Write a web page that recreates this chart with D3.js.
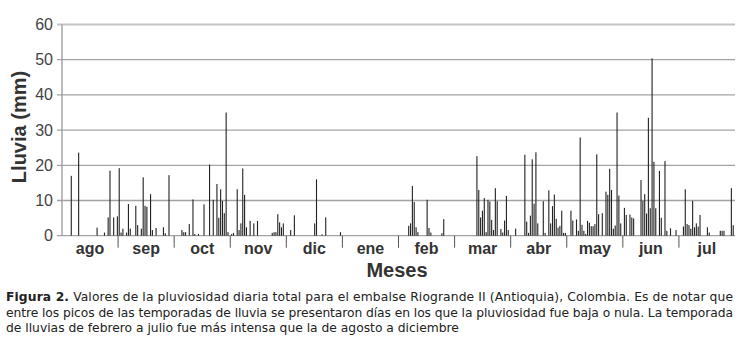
<!DOCTYPE html>
<html>
<head>
<meta charset="utf-8">
<script src="https://cdn.jsdelivr.net/npm/d3@7"></script>
<style>
  body { margin: 0; background: #fff; }
  #chart { width: 740px; height: 342px; }
  text { font-family: "Liberation Sans", Arial, sans-serif; }
  .caption { font-family: "DejaVu Sans", Verdana, sans-serif; font-size: 12.3px; fill: #222; }
</style>
</head>
<body>
<div id="chart"></div>
<script>
// months on the category axis (ago -> jul)
const meses = ['ago','sep','oct','nov','dic','ene','feb','mar','abr','may','jun','jul'];
const yTicks = [0, 10, 20, 30, 40, 50, 60];

// day index counted from 1 August, and daily rain in mm
const dias = [
  5, 9, 19, 23, 25, 26, 28, 30, 31, 32, 33, 35, 36, 37, 40, 41, 43, 44, 45, 46, 48, 49, 51, 55, 56, 58,
  65, 66, 67, 69, 71, 72, 74, 77, 80, 82, 84, 85, 86, 87, 88, 89, 90,
  92, 93, 95, 96, 97, 98, 99, 100, 102, 104, 106, 114, 115, 116, 117, 118, 119, 120,
  124, 126, 137, 138, 141, 143, 151,
  188, 189, 190, 191, 192, 193, 198, 199, 200, 206, 207,
  225, 226, 227, 228, 229, 230, 231, 232, 233, 234, 235, 236, 238, 239, 240, 241, 242,
  246, 251, 252, 253, 254, 255, 256, 257, 258, 261, 262, 264, 265, 266, 267, 268, 269, 270, 271, 272,
  273, 276, 277, 279, 280, 281, 282, 283, 284, 285, 286, 287, 288, 289, 290, 291, 293, 295, 296, 297,
  298, 299, 300, 301, 302, 303,
  305, 306, 308, 309, 310, 314, 315, 316, 317, 318, 319, 320, 321, 322, 324, 325, 327, 328, 330, 333,
  337, 338, 339, 340, 341, 342, 343, 344, 345, 346, 350, 351, 357, 358, 359, 363, 364
];
const lluvia = [
  17.0, 23.6, 2.3, 0.9, 5.2, 18.5, 5.2, 5.5, 19.2, 0.9, 2.0, 0.9, 9.0, 2.0, 8.5, 3.0, 2.0, 16.6, 8.5, 8.2, 11.8, 1.6, 2.2, 2.4, 0.7, 17.2,
  1.6, 1.0, 1.0, 3.3, 10.3, 0.5, 0.5, 8.9, 20.2, 10.2, 14.7, 5.1, 13.2, 9.9, 6.4, 35.0, 1.0,
  0.5, 0.8, 13.2, 1.6, 3.5, 19.1, 11.6, 2.4, 4.2, 3.5, 4.2, 0.8, 1.0, 1.0, 6.1, 3.8, 2.4, 3.5,
  1.6, 5.8, 3.5, 16.0, 0.4, 5.2, 1.0,
  2.8, 3.5, 14.1, 9.6, 2.4, 1.0, 10.2, 2.2, 0.9, 0.7, 4.7,
  22.6, 13.0, 5.2, 7.1, 10.7, 1.0, 10.2, 9.7, 4.5, 1.6, 13.5, 9.8, 1.9, 0.9, 4.3, 11.3, 1.6,
  2.0, 23.0, 4.0, 0.8, 5.7, 21.7, 9.1, 23.7, 3.5, 9.8, 0.8, 12.9, 3.5, 8.4, 11.7, 4.8, 2.3, 2.8, 7.1, 0.8,
  0.8, 7.1, 4.3, 4.6, 1.4, 27.9, 3.1, 1.4, 0.5, 4.2, 3.7, 2.7, 2.7, 3.3, 23.1, 6.1, 6.4, 12.5, 11.6, 19.0,
  13.0, 2.0, 2.9, 35.0, 11.4, 3.5,
  7.9, 5.9, 6.0, 5.2, 4.9, 15.8, 9.9, 11.8, 6.3, 33.5, 7.8, 50.4, 21.0, 7.8, 18.4, 5.1, 21.2, 1.4, 2.1, 1.6,
  2.6, 13.2, 3.3, 3.0, 2.0, 9.9, 2.4, 3.5, 2.6, 5.9, 2.4, 0.9, 1.4, 1.4, 1.4, 13.5, 3.0
];

const captionLines = [
  ['Figura 2.', ' Valores de la pluviosidad diaria total para el embalse Riogrande II (Antioquia), Colombia. Es de notar que'],
  ['', 'entre los picos de las temporadas de lluvia se presentaron días en los que la pluviosidad fue baja o nula. La temporada'],
  ['', 'de lluvias de febrero a julio fue más intensa que la de agosto a diciembre']
];

const data = dias.map((d, i) => ({dia: d, mm: lluvia[i]}));

// plot area
const plot = {left: 62, right: 735, top: 24.5, bottom: 235.7};

const svg = d3.select('#chart').append('svg')
    .attr('width', 740)
    .attr('height', 342);

const y = d3.scaleLinear().domain([0, 60]).range([plot.bottom, plot.top]);
const xDia = d3.scaleLinear().domain([0, 365]).range([plot.left, plot.right]);
const xMes = d3.scaleBand().domain(meses).range([plot.left, plot.right]);

// gridlines + y tick labels
const grid = svg.append('g').attr('class', 'grid');
grid.selectAll('line')
    .data(yTicks)
    .enter().append('line')
    .attr('x1', plot.left - 5)
    .attr('x2', plot.right)
    .attr('y1', d => y(d))
    .attr('y2', d => y(d))
    .attr('stroke', d => d === 60 ? '#c4c4c4' : '#a3a3a3')
    .attr('stroke-width', d => d === 60 ? 2 : 1.3);

grid.selectAll('text')
    .data(yTicks)
    .enter().append('text')
    .attr('x', 53)
    .attr('y', d => y(d) + 5.5)
    .attr('text-anchor', 'end')
    .attr('font-size', 16)
    .attr('fill', '#444')
    .text(d => d);

// y axis line
svg.append('line')
    .attr('x1', plot.left).attr('x2', plot.left)
    .attr('y1', plot.top).attr('y2', plot.bottom)
    .attr('stroke', '#999')
    .attr('stroke-width', 1.3);

// daily rain bars
svg.append('g').attr('class', 'bars')
    .selectAll('rect')
    .data(data)
    .enter().append('rect')
    .attr('x', d => xDia(d.dia) - 0.5)
    .attr('width', 1.1)
    .attr('y', d => y(d.mm))
    .attr('height', d => plot.bottom - y(d.mm))
    .attr('fill', '#222');

// month separators below the axis
svg.append('g')
    .selectAll('line')
    .data(meses.slice(1))
    .enter().append('line')
    .attr('x1', d => xMes(d))
    .attr('x2', d => xMes(d))
    .attr('y1', plot.bottom)
    .attr('y2', plot.bottom + 12)
    .attr('stroke', '#555')
    .attr('stroke-width', 1);

// month labels
svg.append('g')
    .selectAll('text')
    .data(meses)
    .enter().append('text')
    .attr('x', d => xMes(d) + xMes.bandwidth() / 2)
    .attr('y', 254)
    .attr('text-anchor', 'middle')
    .attr('font-size', 16)
    .attr('font-weight', 'bold')
    .attr('fill', '#333')
    .text(d => d);

// axis titles
svg.append('text')
    .attr('x', 397)
    .attr('y', 277)
    .attr('text-anchor', 'middle')
    .attr('font-size', 20)
    .attr('font-weight', 'bold')
    .attr('fill', '#333')
    .text('Meses');

svg.append('text')
    .attr('transform', 'translate(26,127) rotate(-90)')
    .attr('text-anchor', 'middle')
    .attr('font-size', 20)
    .attr('font-weight', 'bold')
    .attr('fill', '#333')
    .text('Lluvia (mm)');

// caption, first two lines stretched to look justified
const cap = svg.append('g').attr('class', 'caption');
captionLines.forEach((ln, i) => {
    let t = cap.append('text')
        .attr('class', 'caption')
        .attr('x', 6)
        .attr('y', 301 + i * 15.5);
    if (i < 2) t.attr('textLength', 727).attr('lengthAdjust', 'spacing');
    if (ln[0]) t.append('tspan').attr('font-weight', 'bold').text(ln[0]);
    t.append('tspan').text(ln[1]);
});
</script>
</body>
</html>
